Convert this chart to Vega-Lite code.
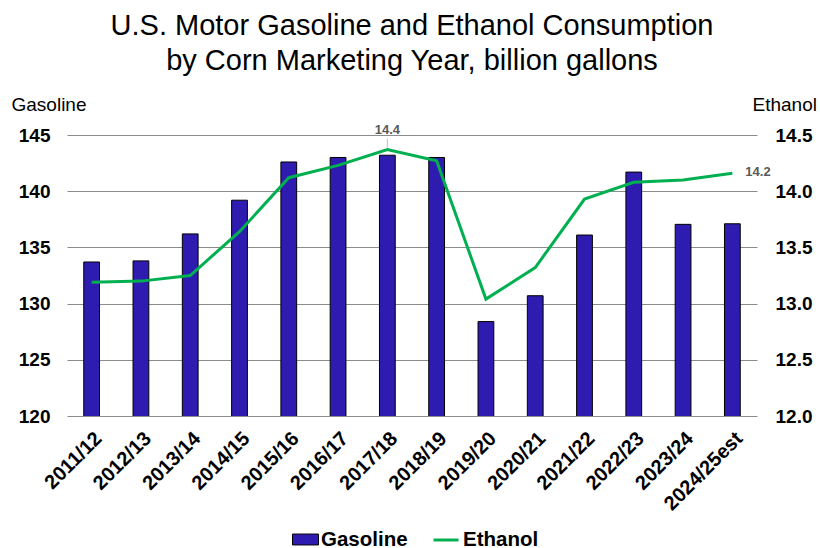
{
  "$schema": "https://vega.github.io/schema/vega-lite/v6.json",
  "autosize": "none",
  "width": 690,
  "height": 281,
  "padding": {"left": 67, "top": 135, "right": 63, "bottom": 132},
  "background": "white",
  "config": {
    "font": "Liberation Sans",
    "view": {"stroke": null},
    "axis": {"labelFont": "Liberation Sans", "titleFont": "Liberation Sans"}
  },
  "title": {
    "text": ["U.S. Motor Gasoline and Ethanol Consumption", "by Corn Marketing Year, billion gallons"],
    "fontSize": 29,
    "fontWeight": "normal",
    "font": "Liberation Sans",
    "color": "#000000",
    "lineHeight": 35,
    "anchor": "middle",
    "offset": 19
  },
  "data": {
    "values": [
      {"year": "2011/12", "gasoline": 133.7, "ethanol": 13.19},
      {"year": "2012/13", "gasoline": 133.8, "ethanol": 13.20},
      {"year": "2013/14", "gasoline": 136.2, "ethanol": 13.25},
      {"year": "2014/15", "gasoline": 139.2, "ethanol": 13.64},
      {"year": "2015/16", "gasoline": 142.6, "ethanol": 14.12},
      {"year": "2016/17", "gasoline": 143.0, "ethanol": 14.23},
      {"year": "2017/18", "gasoline": 143.2, "ethanol": 14.37},
      {"year": "2018/19", "gasoline": 143.0, "ethanol": 14.27},
      {"year": "2019/20", "gasoline": 128.4, "ethanol": 13.04},
      {"year": "2020/21", "gasoline": 130.7, "ethanol": 13.32},
      {"year": "2021/22", "gasoline": 136.1, "ethanol": 13.93},
      {"year": "2022/23", "gasoline": 141.7, "ethanol": 14.08},
      {"year": "2023/24", "gasoline": 137.05, "ethanol": 14.10},
      {"year": "2024/25est", "gasoline": 137.1, "ethanol": 14.16}
    ]
  },
  "encoding": {
    "x": {
      "field": "year",
      "type": "nominal",
      "sort": null,
      "scale": {"paddingInner": 0.68, "paddingOuter": 0.34},
      "axis": {
        "title": null,
        "labelAngle": -45,
        "labelFontSize": 20,
        "labelFontWeight": "bold",
        "labelColor": "#000000",
        "labelLimit": 200,
        "ticks": false,
        "domain": false,
        "labelPadding": 12
      }
    }
  },
  "layer": [
    {
      "mark": {"type": "bar", "stroke": "#000000", "strokeWidth": 1, "clip": true},
      "encoding": {
        "y": {
          "field": "gasoline",
          "type": "quantitative",
          "scale": {"domain": [120, 145], "zero": false, "nice": false},
          "axis": {
            "title": "Gasoline",
            "titleAngle": 0,
            "titleAlign": "left",
            "titleBaseline": "alphabetic",
            "titleX": -56,
            "titleY": -25,
            "titleFontSize": 19,
            "titleFontWeight": "normal",
            "titleColor": "#000000",
            "values": [120, 125, 130, 135, 140, 145],
            "labelFontSize": 19,
            "labelFontWeight": "bold",
            "labelColor": "#000000",
            "labelPadding": 17,
            "ticks": false,
            "domain": false,
            "grid": true,
            "gridColor": "#8c8c8c",
            "gridWidth": 1
          }
        },
        "fill": {
          "datum": "Gasoline",
          "scale": {"domain": ["Gasoline"], "range": ["#2E1CB0"]},
          "legend": {
            "title": null,
            "orient": "none",
            "legendX": 225,
            "legendY": 391,
            "padding": 0,
            "symbolType": "M-1,-0.42H1V0.42H-1Z",
            "symbolSize": 676,
            "symbolStrokeColor": "#000000",
            "symbolStrokeWidth": 1,
            "symbolOpacity": 1,
            "labelFontSize": 20.5,
            "labelFontWeight": "bold",
            "labelColor": "#000000",
            "labelOffset": 2
          }
        }
      }
    },
    {
      "layer": [
        {
          "mark": {"type": "line", "strokeWidth": 3},
          "encoding": {
            "y": {
              "field": "ethanol",
              "type": "quantitative",
              "scale": {"domain": [12, 14.5], "zero": false, "nice": false},
              "axis": {
                "orient": "right",
                "title": "Ethanol",
                "titleAngle": 0,
                "titleAlign": "left",
                "titleBaseline": "alphabetic",
                "titleX": -5,
                "titleY": -25,
                "titleFontSize": 19,
                "titleFontWeight": "normal",
                "titleColor": "#000000",
                "values": [12, 12.5, 13, 13.5, 14, 14.5],
                "format": ".1f",
                "labelFontSize": 19,
                "labelFontWeight": "bold",
                "labelColor": "#000000",
                "labelPadding": 18,
                "ticks": false,
                "domain": false,
                "grid": false
              }
            },
            "stroke": {
              "datum": "Ethanol",
              "scale": {"domain": ["Ethanol"], "range": ["#00B050"]},
              "legend": {
                "title": null,
                "orient": "none",
                "legendX": 365,
                "legendY": 391,
                "padding": 0,
                "symbolType": "stroke",
                "symbolSize": 625,
                "symbolStrokeWidth": 3,
                "labelFontSize": 20.5,
                "labelFontWeight": "bold",
                "labelColor": "#000000",
                "labelOffset": 3
              }
            }
          }
        },
        {
          "transform": [{"filter": "datum.year == '2017/18'"}],
          "mark": {"type": "rule", "color": "#BFBFBF", "strokeWidth": 1, "yOffset": -2, "y2Offset": -11},
          "encoding": {
            "y": {"field": "ethanol", "type": "quantitative"},
            "y2": {"field": "ethanol"}
          }
        },
        {
          "transform": [{"filter": "datum.year == '2017/18'"}],
          "mark": {"type": "text", "fontSize": 13, "fontWeight": "bold", "color": "#595959", "align": "center", "baseline": "alphabetic", "dy": -16},
          "encoding": {
            "y": {"field": "ethanol", "type": "quantitative"},
            "text": {"field": "ethanol", "type": "quantitative", "format": ".1f"}
          }
        },
        {
          "transform": [{"filter": "datum.year == '2024/25est'"}],
          "mark": {"type": "text", "fontSize": 13, "fontWeight": "bold", "color": "#595959", "align": "left", "baseline": "middle", "dx": 13, "dy": -1},
          "encoding": {
            "y": {"field": "ethanol", "type": "quantitative"},
            "text": {"field": "ethanol", "type": "quantitative", "format": ".1f"}
          }
        }
      ]
    }
  ],
  "resolve": {"scale": {"y": "independent"}}
}
